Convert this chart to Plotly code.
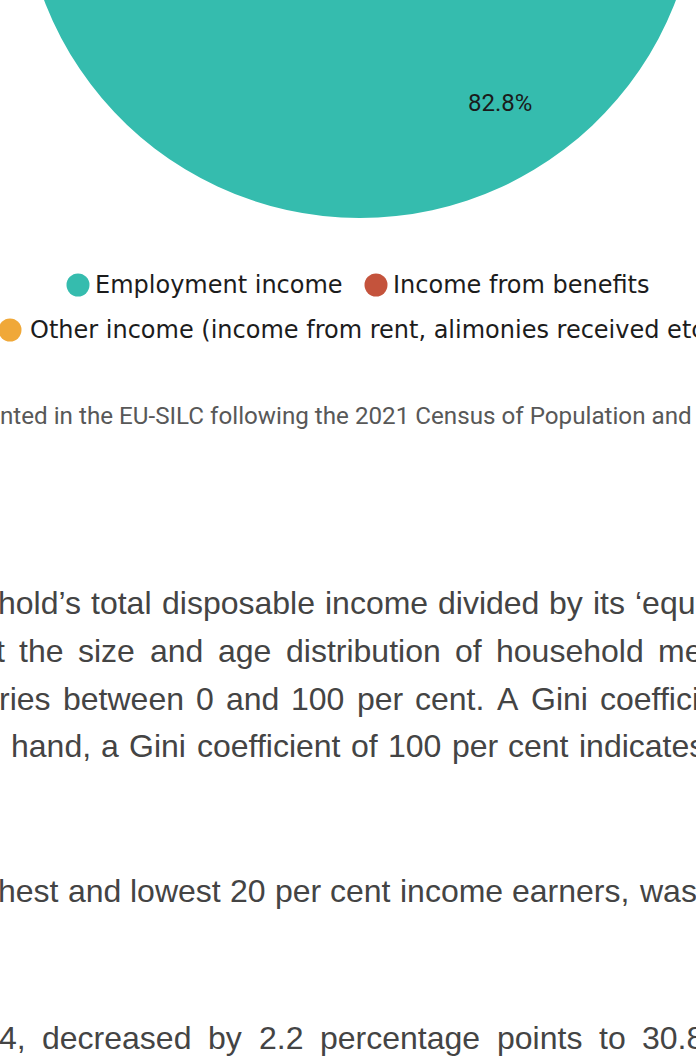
import math
import plotly.graph_objects as go

# ---------------- data ----------------
labels = ["Employment income", "Income from benefits",
          "Other income (income from rent, alimonies received etc.)"]
values = [82.8, 14.7, 2.5]
colors = ["#35bcae", "#c4533c", "#f0a838"]

footnote = "nted in the EU-SILC following the 2021 Census of Population and Housing"

body_lines = [
    "hold\u2019s total disposable income divided by its \u2018equivalised",
    "t the size and age distribution of household members",
    "ries between 0 and 100 per cent. A Gini coefficient",
    "hand, a Gini coefficient of 100 per cent indicates",
    "hest and lowest 20 per cent income earners, was",
    "4, decreased by 2.2 percentage points to 30.8",
]

# ---------------- layout geometry (viewport pixels) ----------------
VW, VH = 696, 1056
OX, OY = 0, 470
W, H = 720, VH + OY


def px(vx):
    return (vx + OX) / W


def py(vy):
    return 1 - (vy + OY) / H


cx, cy, r = 360, -120, 338

fig = go.Figure()
fig.add_trace(go.Pie(
    labels=labels, values=values, sort=False, direction="clockwise", rotation=0,
    marker=dict(colors=colors, line=dict(width=0)),
    textinfo="none",
    domain=dict(x=[px(cx - r), px(cx + r)], y=[py(cy + r), py(cy - r)]),
    showlegend=False, hoverinfo="skip",
))

ann = []
shapes = []

# slice label for the big slice, placed at its mid-angle
total = sum(values)
mid = 2 * math.pi * (values[0] / 2) / total
rl = 0.78 * r
ann.append(dict(text="%.1f%%" % (100 * values[0] / total), xref="paper", yref="paper",
                x=px(cx + rl * math.sin(mid)), y=py(cy - rl * math.cos(mid)),
                xanchor="center", yanchor="middle", showarrow=False,
                xshift=4, yshift=3,
                font=dict(family="Roboto", size=24, color="#1a1a1a")))

# legend (custom, circles)
legend_items = [(0, 78, 285, 95), (1, 376, 285, 393), (2, 10, 330, 30)]
for idx, dx, dy, tx in legend_items:
    shapes.append(dict(type="circle", xref="paper", yref="paper",
                       xsizemode="pixel", ysizemode="pixel",
                       xanchor=px(dx), yanchor=py(dy),
                       x0=-11.5, x1=11.5, y0=-11.5, y1=11.5,
                       fillcolor=colors[idx], line=dict(width=0)))
    ann.append(dict(text=labels[idx], xref="paper", yref="paper",
                    x=px(tx - 1), y=py(dy - 0.5), xanchor="left", yanchor="middle",
                    showarrow=False, borderpad=0,
                    font=dict(family="DejaVu Sans", size=24, color="#1c1c1c")))

# footnote
ann.append(dict(text=footnote, xref="paper", yref="paper", x=px(-1), y=py(416),
                xanchor="left", yanchor="middle", showarrow=False, borderpad=0,
                font=dict(family="Roboto", size=24.2, color="#585858")))

# body text: justified lines, words laid out with Arial advance widths
AW = {" ": 278, ",": 278, ".": 278, "\u2018": 222, "\u2019": 222, "'": 191,
      "A": 667, "G": 778, "I": 278,
      "a": 556, "b": 556, "c": 500, "d": 556, "e": 556, "f": 278, "g": 556,
      "h": 556, "i": 222, "j": 222, "k": 500, "l": 222, "m": 833, "n": 556,
      "o": 556, "p": 556, "q": 556, "r": 333, "s": 500, "t": 278, "u": 556,
      "v": 500, "w": 722, "x": 500, "y": 500, "z": 500}


def tw(s, size):
    return sum(AW.get(ch, 556) for ch in s) * size / 1000.0


fs = 32
# (left x, baseline y, extra gap per space) in viewport px
body_pos = [(-2, 614, 1.0), (-4, 662, 5.6), (-1, 710, 3.3), (11, 757, 1.4),
            (-2, 902, 0.3), (-1, 1049, 7.8)]
for (bx, by, extra), line in zip(body_pos, body_lines):
    xw = bx
    for word in line.split(" "):
        ann.append(dict(text=word, xref="paper", yref="paper", x=px(xw), y=py(by - 0.35 * fs),
                        xanchor="left", yanchor="middle", showarrow=False,
                        borderpad=0, borderwidth=0,
                        font=dict(family="Liberation Sans, Arial", size=fs, color="#444444")))
        xw += tw(word, fs) + tw(" ", fs) + extra

fig.update_layout(width=W, height=H, margin=dict(l=0, r=0, t=0, b=0),
                  paper_bgcolor="white", plot_bgcolor="white",
                  annotations=ann, shapes=shapes)

post = """
var gd = document.getElementById('{plot_id}');
document.documentElement.style.overflow = 'hidden';
document.body.style.margin = '0';
document.body.style.overflow = 'hidden';
gd.style.position = 'absolute';
gd.style.left = '-%dpx';
gd.style.top = '-%dpx';
""" % (OX, OY)

fig.write_html("out.html", config={"displayModeBar": False}, post_script=post)
